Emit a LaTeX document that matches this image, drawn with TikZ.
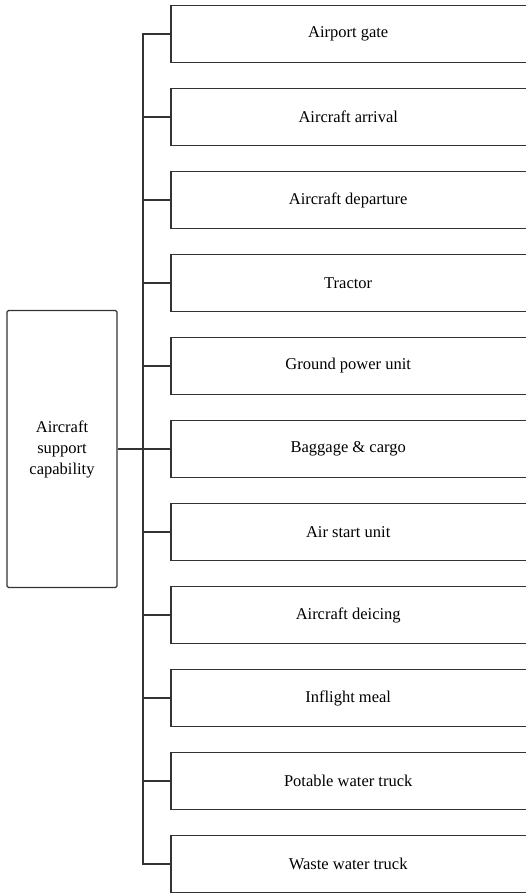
\documentclass[tikz,border=0pt]{standalone}
\usepackage{fontspec}
\setmainfont{Liberation Serif}
\begin{document}
\begin{tikzpicture}[x=1pt,y=-1pt,
  conn/.style={draw=black!80, line width=1.2pt},
  leaf/.style={rectangle, anchor=west, minimum width=354pt, minimum height=56pt, inner sep=0pt, font=\fontsize{16.5}{19}\selectfont},
  rootbox/.style={draw=black!80, line width=1.2pt, rectangle, rounded corners=1.5pt, minimum width=110pt, minimum height=277pt, inner sep=0pt, align=center, font=\fontsize{16.5}{21}\selectfont}]
\useasboundingbox (0,0) rectangle (526,893);
\node[rootbox] (root) at (62,449) {Aircraft\\support\\capability};
\node[leaf] (b1) at (171,34) {Airport gate};
\node[leaf] (b2) at (171,117) {Aircraft arrival};
\node[leaf] (b3) at (171,200) {Aircraft departure};
\node[leaf] (b4) at (171,283) {Tractor};
\node[leaf] (b5) at (171,366) {Ground power unit};
\node[leaf] (b6) at (171,449) {Baggage \& cargo};
\node[leaf] (b7) at (171,532) {Air start unit};
\node[leaf] (b8) at (171,615) {Aircraft deicing};
\node[leaf] (b9) at (171,698) {Inflight meal};
\node[leaf] (b10) at (171,781) {Potable water truck};
\node[leaf] (b11) at (171,864) {Waste water truck};
\foreach \i in {1,...,11} {
  \draw[conn] ([xshift=20pt]b\i.north east) -- (b\i.north west) -- (b\i.south west) -- ([xshift=20pt]b\i.south east);
}
\draw[conn] (b1.west) -- ++(-28,0) |- (b11.west);
\foreach \i in {2,...,10} { \draw[conn] (b\i.west) -- ++(-28,0); }
\draw[conn] (root.east) -- (b6.west);
\end{tikzpicture}
\end{document}
